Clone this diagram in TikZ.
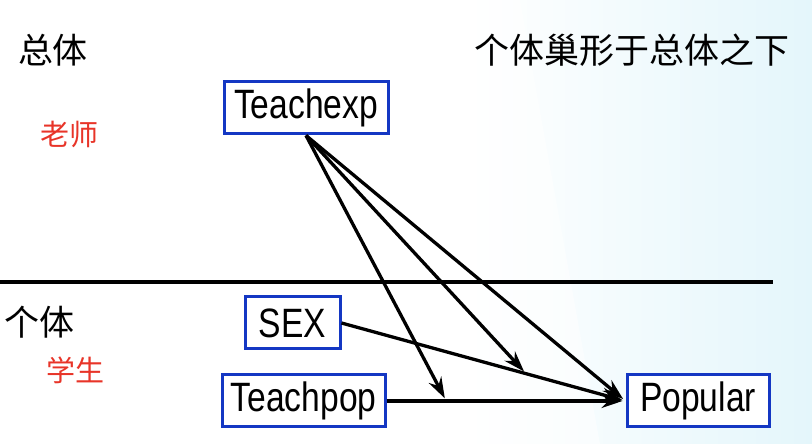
\documentclass[tikz,border=0pt]{standalone}
\usepackage{fontspec}
\setmainfont{Liberation Sans}
\newfontfamily\varfont[FakeStretch=0.82]{Liberation Sans}
\newfontfamily\cjk{Noto Sans CJK SC}
\usetikzlibrary{arrows.meta,positioning}
\definecolor{boxblue}{RGB}{20,55,195}
\definecolor{labelred}{RGB}{232,52,40}
\definecolor{paleback}{RGB}{228,246,251}
\tikzset{
    %Define standard arrow tip
    >={Stealth[length=21pt,width=14pt,inset=7pt]},
    %Define style for variable boxes
    varbox/.style={
           rectangle,
           draw=boxblue, line width=3pt,
           minimum height=52pt,
           inner sep=4pt,
           font=\varfont\fontsize{41}{45}\selectfont,
           text centered,
           fill=white},
    % Define style for level labels
    levellabel/.style={
           font=\cjk\fontsize{35}{40}\selectfont,
           text=black},
    rolelabel/.style={
           font=\cjk\fontsize{29}{34}\selectfont,
           text=labelred},
    % Define arrow style
    pil/.style={
           ->,
           line width=3.3pt,
           shorten >=3pt}
}
\begin{document}
\begin{tikzpicture}[x=1pt,y=1pt]
\useasboundingbox (0,0) rectangle (812,444);
% background
\fill[white] (0,0) rectangle (812,444);
\shade[left color=white,right color=paleback,draw=none] (470,0) -- (812,0) -- (812,444) -- (470,444) -- cycle;
\fill[white,opacity=0.5] (470,0) -- (600,0) -- (520,444) -- (470,444) -- cycle;
% level texts
\node[levellabel] (whole) at (53,394) {总体};
\node[levellabel] (nested) at (632,394) {个体巢形于总体之下};
\node[rolelabel] (teacher) at (69,310) {老师};
\node[levellabel] (single) at (40,122) {个体};
\node[rolelabel] (student) at (75,74) {学生};
% level divider
\coordinate (divL) at (0,162);
\coordinate (divR) at (773,162);
\draw[line width=3.8pt] (divL) -- (divR);
% variables
\node[varbox, minimum width=163pt] (Teachpop) at (303.5,43) {Teachpop};
\node[varbox, minimum width=95pt, above=23pt of Teachpop, xshift=-11pt] (SEX) {SEX};
\node[varbox, minimum width=164pt, above=160pt of SEX, xshift=13.5pt] (Teachexp) {Teachexp};
\node[varbox, minimum width=142pt, right=239pt of Teachpop] (Popular) {Popular};
% paths
\path[pil]
	(SEX.east) edge coordinate[pos=0.65] (onSEX) (Popular.west)
	(Teachpop) edge coordinate[pos=0.25] (onPop) (Popular);
\path[pil]
	(Teachexp.south) edge (onPop) edge (onSEX) edge (Popular.west);
\end{tikzpicture}
\end{document}
